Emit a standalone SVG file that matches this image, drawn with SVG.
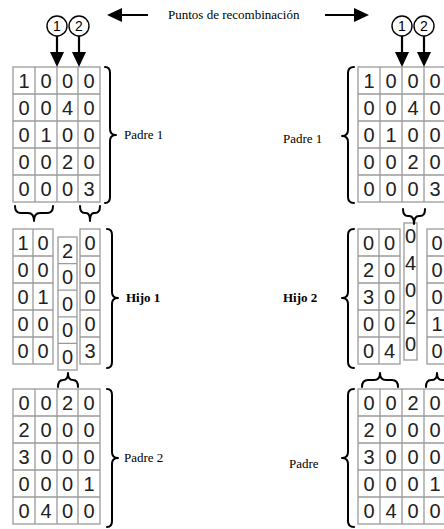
<svg xmlns="http://www.w3.org/2000/svg" width="444" height="529" viewBox="0 0 444 529">
<style>
.grid{fill:#fff;stroke:#9a9a9a;stroke-width:1.3}
.d{font-family:"Liberation Sans",Arial,sans-serif;font-size:20px;fill:#222;text-anchor:middle}
.lbl{font-family:"Liberation Serif","Times New Roman",serif;font-size:13px;fill:#000}
.b{font-weight:bold}
.br{fill:none;stroke:#000;stroke-width:2;stroke-linecap:round;stroke-linejoin:round}
.ar{stroke:#000;stroke-width:2.2}
.circ{fill:#fff;stroke:#000;stroke-width:1.4}
.cn{font-family:"Liberation Sans",Arial,sans-serif;font-size:14px;fill:#000;text-anchor:middle}
</style>
<defs>
<marker id="ah" viewBox="0 0 10 10" refX="8" refY="5" markerWidth="15" markerHeight="14" orient="auto" markerUnits="userSpaceOnUse" preserveAspectRatio="none">
<path d="M0,0 L10,5 L0,10 z" fill="#000"/>
</marker>
</defs>
<rect width="444" height="529" fill="#fff"/>

<g id="title">
<text class="lbl" x="168" y="19">Puntos de recombinación</text>
</g>

<g id="points-left">
<circle class="circ" cx="57" cy="26" r="10"/><text class="cn" x="57" y="31">1</text>
<circle class="circ" cx="79" cy="26" r="10"/><text class="cn" x="79" y="31">2</text>
</g>
<g id="points-right">
<circle class="circ" cx="402" cy="26" r="10"/><text class="cn" x="402" y="31">1</text>
<circle class="circ" cx="424" cy="26" r="10"/><text class="cn" x="424" y="31">2</text>
</g>

<!-- Left Padre 1 -->
<g id="padre1-left">
<rect class="grid" x="13" y="67" width="87" height="135"/>
<path class="grid" d="M35,67V202M57,67V202M78,67V202M13,94H100M13,121H100M13,148H100M13,175H100"/>
<text class="d" x="24" y="87.5">1</text><text class="d" x="46" y="87.5">0</text><text class="d" x="67.5" y="87.5">0</text><text class="d" x="89" y="87.5">0</text>
<text class="d" x="24" y="114.5">0</text><text class="d" x="46" y="114.5">0</text><text class="d" x="67.5" y="114.5">4</text><text class="d" x="89" y="114.5">0</text>
<text class="d" x="24" y="141.5">0</text><text class="d" x="46" y="141.5">1</text><text class="d" x="67.5" y="141.5">0</text><text class="d" x="89" y="141.5">0</text>
<text class="d" x="24" y="168.5">0</text><text class="d" x="46" y="168.5">0</text><text class="d" x="67.5" y="168.5">2</text><text class="d" x="89" y="168.5">0</text>
<text class="d" x="24" y="195.5">0</text><text class="d" x="46" y="195.5">0</text><text class="d" x="67.5" y="195.5">0</text><text class="d" x="89" y="195.5">3</text>
<text class="lbl" x="124" y="139">Padre 1</text>
</g>

<!-- Left Hijo 1 -->
<g id="hijo1">
<rect class="grid" x="13" y="229" width="40" height="135"/>
<path class="grid" d="M33,229V364M13,256H53M13,283H53M13,310H53M13,337H53"/>
<rect class="grid" x="58" y="237" width="19" height="133"/>
<path class="grid" d="M58,263.6H77M58,290.2H77M58,316.8H77M58,343.4H77"/>
<rect class="grid" x="80" y="229" width="20" height="135"/>
<path class="grid" d="M80,256H100M80,283H100M80,310H100M80,337H100"/>
<text class="d" x="23" y="249.5">1</text><text class="d" x="43" y="249.5">0</text><text class="d" x="67.5" y="257.5">2</text><text class="d" x="90" y="249.5">0</text>
<text class="d" x="23" y="276.5">0</text><text class="d" x="43" y="276.5">0</text><text class="d" x="67.5" y="284">0</text><text class="d" x="90" y="276.5">0</text>
<text class="d" x="23" y="303.5">0</text><text class="d" x="43" y="303.5">1</text><text class="d" x="67.5" y="310.5">0</text><text class="d" x="90" y="303.5">0</text>
<text class="d" x="23" y="330.5">0</text><text class="d" x="43" y="330.5">0</text><text class="d" x="67.5" y="337">0</text><text class="d" x="90" y="330.5">0</text>
<text class="d" x="23" y="357.5">0</text><text class="d" x="43" y="357.5">0</text><text class="d" x="67.5" y="363.5">0</text><text class="d" x="90" y="357.5">3</text>
<text class="lbl b" x="126" y="302">Hijo 1</text>
</g>

<!-- Left Padre 2 -->
<g id="padre2-left">
<rect class="grid" x="13" y="389" width="87" height="135"/>
<path class="grid" d="M35,389V524M57,389V524M78,389V524M13,416H100M13,443H100M13,470H100M13,497H100"/>
<text class="d" x="24" y="409.5">0</text><text class="d" x="46" y="409.5">0</text><text class="d" x="67.5" y="409.5">2</text><text class="d" x="89" y="409.5">0</text>
<text class="d" x="24" y="436.5">2</text><text class="d" x="46" y="436.5">0</text><text class="d" x="67.5" y="436.5">0</text><text class="d" x="89" y="436.5">0</text>
<text class="d" x="24" y="463.5">3</text><text class="d" x="46" y="463.5">0</text><text class="d" x="67.5" y="463.5">0</text><text class="d" x="89" y="463.5">0</text>
<text class="d" x="24" y="490.5">0</text><text class="d" x="46" y="490.5">0</text><text class="d" x="67.5" y="490.5">0</text><text class="d" x="89" y="490.5">1</text>
<text class="d" x="24" y="517.5">0</text><text class="d" x="46" y="517.5">4</text><text class="d" x="67.5" y="517.5">0</text><text class="d" x="89" y="517.5">0</text>
<text class="lbl" x="124" y="462">Padre 2</text>
</g>

<!-- Right Padre 1 -->
<g id="padre1-right">
<rect class="grid" x="358" y="67" width="88" height="135"/>
<path class="grid" d="M380,67V202M402,67V202M424,67V202M358,94H446M358,121H446M358,148H446M358,175H446"/>
<text class="d" x="369" y="87.5">1</text><text class="d" x="391" y="87.5">0</text><text class="d" x="413" y="87.5">0</text><text class="d" x="435" y="87.5">0</text>
<text class="d" x="369" y="114.5">0</text><text class="d" x="391" y="114.5">0</text><text class="d" x="413" y="114.5">4</text><text class="d" x="435" y="114.5">0</text>
<text class="d" x="369" y="141.5">0</text><text class="d" x="391" y="141.5">1</text><text class="d" x="413" y="141.5">0</text><text class="d" x="435" y="141.5">0</text>
<text class="d" x="369" y="168.5">0</text><text class="d" x="391" y="168.5">0</text><text class="d" x="413" y="168.5">2</text><text class="d" x="435" y="168.5">0</text>
<text class="d" x="369" y="195.5">0</text><text class="d" x="391" y="195.5">0</text><text class="d" x="413" y="195.5">0</text><text class="d" x="435" y="195.5">3</text>
<text class="lbl" x="283" y="143">Padre 1</text>
</g>

<!-- Right Hijo 2 -->
<g id="hijo2">
<rect class="grid" x="358" y="229" width="42" height="135"/>
<path class="grid" d="M379,229V364M358,256H400M358,283H400M358,310H400M358,337H400"/>
<rect class="grid" x="404" y="223" width="13" height="137"/>
<rect class="grid" x="427" y="229" width="20" height="135"/>
<path class="grid" d="M427,256H447M427,283H447M427,310H447M427,337H447"/>
<text class="d" x="368.5" y="249.5">0</text><text class="d" x="389.5" y="249.5">0</text><text class="d" x="410.5" y="243">0</text><text class="d" x="437" y="249.5">0</text>
<text class="d" x="368.5" y="276.5">2</text><text class="d" x="389.5" y="276.5">0</text><text class="d" x="410.5" y="270">4</text><text class="d" x="437" y="276.5">0</text>
<text class="d" x="368.5" y="303.5">3</text><text class="d" x="389.5" y="303.5">0</text><text class="d" x="410.5" y="297">0</text><text class="d" x="437" y="303.5">0</text>
<text class="d" x="368.5" y="330.5">0</text><text class="d" x="389.5" y="330.5">0</text><text class="d" x="410.5" y="324">2</text><text class="d" x="437" y="330.5">1</text>
<text class="d" x="368.5" y="357.5">0</text><text class="d" x="389.5" y="357.5">4</text><text class="d" x="410.5" y="351">0</text><text class="d" x="437" y="357.5">0</text>
<text class="lbl b" x="283" y="302">Hijo 2</text>
</g>

<!-- Right Padre 2 -->
<g id="padre2-right">
<rect class="grid" x="358" y="389" width="88" height="135"/>
<path class="grid" d="M380,389V524M402,389V524M424,389V524M358,416H446M358,443H446M358,470H446M358,497H446"/>
<text class="d" x="369" y="409.5">0</text><text class="d" x="391" y="409.5">0</text><text class="d" x="413" y="409.5">2</text><text class="d" x="435" y="409.5">0</text>
<text class="d" x="369" y="436.5">2</text><text class="d" x="391" y="436.5">0</text><text class="d" x="413" y="436.5">0</text><text class="d" x="435" y="436.5">0</text>
<text class="d" x="369" y="463.5">3</text><text class="d" x="391" y="463.5">0</text><text class="d" x="413" y="463.5">0</text><text class="d" x="435" y="463.5">0</text>
<text class="d" x="369" y="490.5">0</text><text class="d" x="391" y="490.5">0</text><text class="d" x="413" y="490.5">0</text><text class="d" x="435" y="490.5">1</text>
<text class="d" x="369" y="517.5">0</text><text class="d" x="391" y="517.5">4</text><text class="d" x="413" y="517.5">0</text><text class="d" x="435" y="517.5">0</text>
<text class="lbl" x="289" y="468">Padre</text>
</g>

<g id="connectors">
<!-- top arrows -->
<line class="ar" x1="148" y1="15" x2="110" y2="15" marker-end="url(#ah)"/>
<line class="ar" x1="325" y1="15" x2="366" y2="15" marker-end="url(#ah)"/>
<line class="ar" x1="57" y1="36" x2="57" y2="64" marker-end="url(#ah)"/>
<line class="ar" x1="79" y1="36" x2="79" y2="64" marker-end="url(#ah)"/>
<line class="ar" x1="402" y1="36" x2="402" y2="64" marker-end="url(#ah)"/>
<line class="ar" x1="424" y1="36" x2="424" y2="64" marker-end="url(#ah)"/>
<!-- vertical braces, left side (tip right) -->
<path class="br" d="M105,67Q110,67 110,73L110,129Q110,135 116,135Q110,135 110,141L110,197Q110,203 105,203"/>
<path class="br" d="M107,229Q112,229 112,235L112,292Q112,298 118,298Q112,298 112,304L112,362Q112,368 107,368"/>
<path class="br" d="M107,389Q112,389 112,395L112,452Q112,458 118,458Q112,458 112,464L112,521Q112,527 107,527"/>
<!-- vertical braces, right side (tip left) -->
<path class="br" d="M354,67Q348,67 348,73L348,130Q348,136 342,136Q348,136 348,142L348,197Q348,203 354,203"/>
<path class="br" d="M354,229Q348,229 348,235L348,292Q348,298 342,298Q348,298 348,304L348,362Q348,368 354,368"/>
<path class="br" d="M354,389Q348,389 348,395L348,452Q348,458 342,458Q348,458 348,464L348,521Q348,527 354,527"/>
<!-- horizontal braces -->
<path class="br" d="M15,206Q15,213 21,213L28,213Q34,213 34,221Q34,213 40,213L47,213Q53,213 53,206"/>
<path class="br" d="M80,206Q80,213 85,213L86,213Q90,213 90,221Q90,213 94,213L95,213Q100,213 100,206"/>
<path class="br" d="M58,387Q58,380 63,380L63,380Q68,380 68,373Q68,380 73,380L73,380Q78,380 78,387"/>
<path class="br" d="M403,209Q403,216 408,216L409,216Q414,216 414,224Q414,216 419,216L420,216Q425,216 425,209"/>
<path class="br" d="M362,387Q362,380 368,380L374,380Q380,380 380,373Q380,380 386,380L392,380Q398,380 398,387"/>
<path class="br" d="M426,387Q426,380 431,380L432,380Q437,380 437,373Q437,380 442,380L443,380Q448,380 448,387"/>
</g>
</svg>
